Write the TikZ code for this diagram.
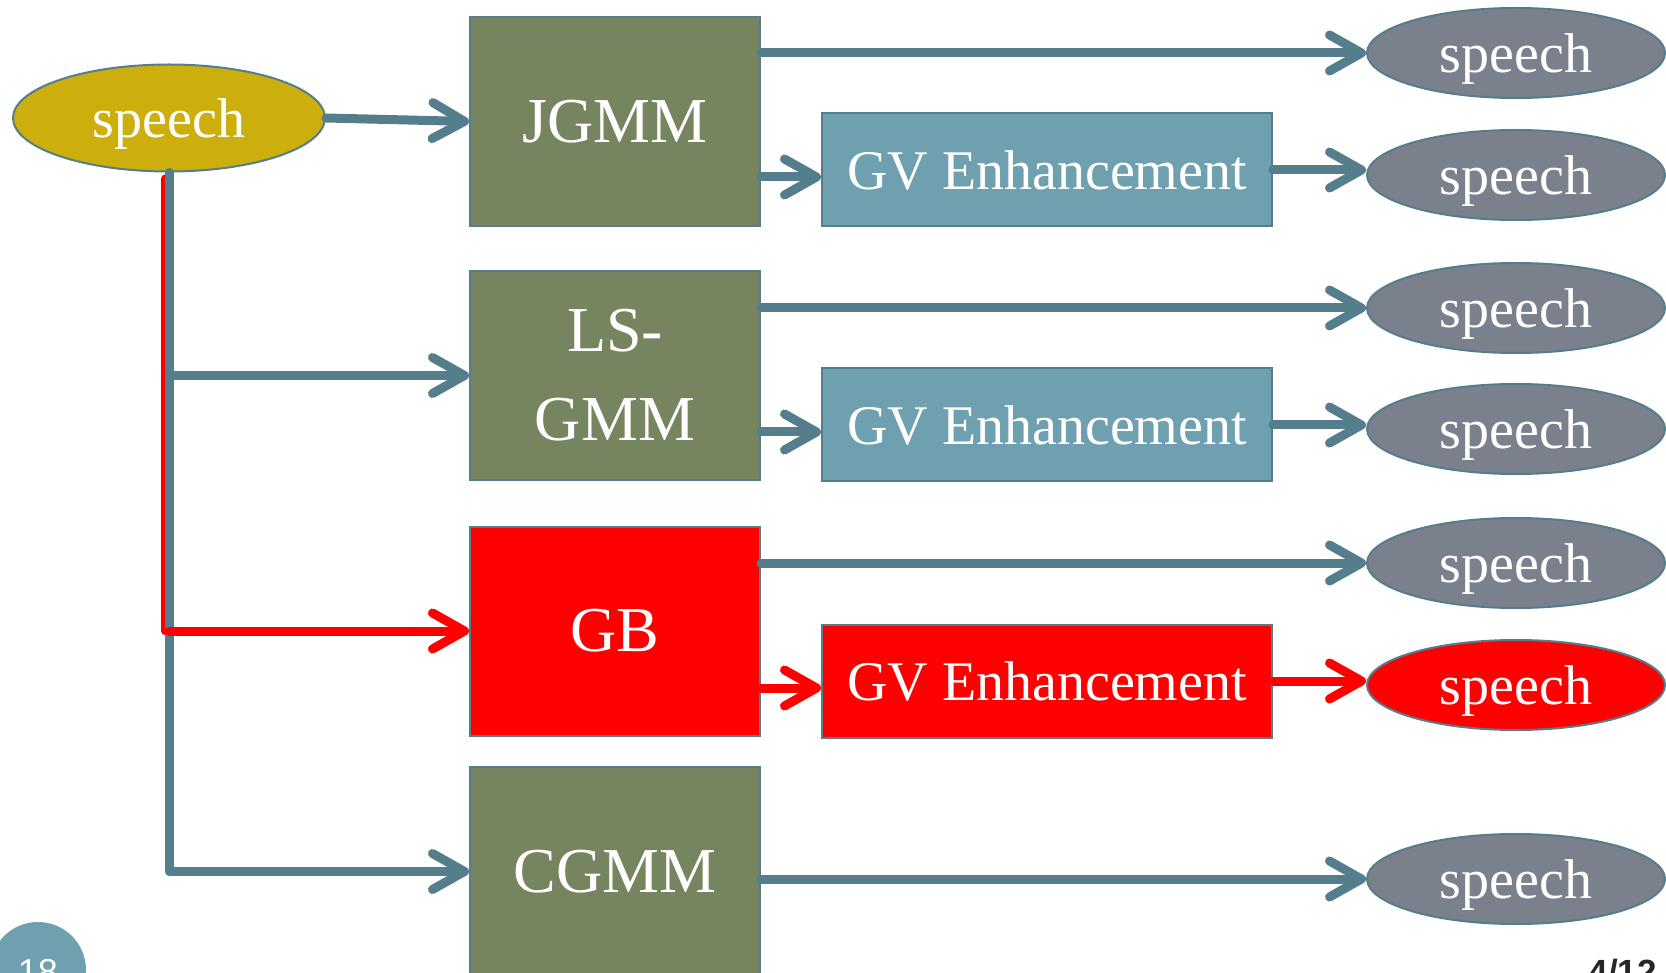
\documentclass[tikz,border=0pt]{standalone}
\usepackage{fontspec}
\setmainfont{Liberation Serif}
\setsansfont{Liberation Sans}
\usetikzlibrary{arrows.meta, shapes.geometric, calc}

\definecolor{edgeteal}{RGB}{84,126,139}
\definecolor{modelgreen}{RGB}{118,132,95}
\definecolor{enhteal}{RGB}{110,160,176}
\definecolor{speechgray}{RGB}{122,128,140}
\definecolor{srcyellow}{RGB}{204,174,12}
\definecolor{hotred}{RGB}{255,0,0}
\definecolor{pagedark}{RGB}{38,38,38}

\tikzset{
  flow/.style={draw=edgeteal, line width=9pt, line cap=round, line join=round,
    -{Straight Barb[length=32pt, width=36pt, round]}},
  hotflow/.style={flow, draw=hotred},
  model/.style={rectangle, draw=edgeteal, line width=2pt, fill=modelgreen, text=white,
    minimum width=290pt, minimum height=209pt, inner sep=0pt, align=center,
    font=\fontsize{64}{89}\selectfont},
  enhance/.style={rectangle, draw=edgeteal, line width=2pt, fill=enhteal, text=white,
    minimum width=450pt, minimum height=113pt, inner sep=0pt,
    font=\fontsize{56}{60}\selectfont},
  speech/.style={ellipse, draw=edgeteal, line width=2pt, fill=speechgray, text=white,
    minimum width=298pt, minimum height=90pt, inner sep=0pt, text depth=0pt,
    font=\fontsize{56}{60}\selectfont},
}

\begin{document}
\begin{tikzpicture}[x=1pt, y=-1pt]
    \useasboundingbox (0,0) rectangle (1666,973);

    % input
    \node[speech, fill=srcyellow, minimum width=312pt, minimum height=107pt] (src) at (169,118) {speech};

    % conversion models
    \node[model] (jgmm) at (615,121.5) {JGMM};
    \node[model] (lsgmm) at (615,375.5) {LS-\\GMM};
    \node[model, fill=hotred] (gb) at (615,631) {GB};
    \node[model] (cgmm) at (615,871.5) {CGMM};

    % enhancement
    \node[enhance] (gv1) at (1047,170) {GV Enhancement};
    \node[enhance] (gv2) at (1047,425) {GV Enhancement};
    \node[enhance, fill=hotred] (gv3) at (1047,681) {GV Enhancement};

    % outputs
    \node[speech] (sp1) at (1516,53) {speech};
    \node[speech] (sp2) at (1516,175) {speech};
    \node[speech] (sp3) at (1516,308) {speech};
    \node[speech] (sp4) at (1516,429) {speech};
    \node[speech] (sp5) at (1516,563) {speech};
    \node[speech, fill=hotred] (sp6) at (1516,685) {speech};
    \node[speech] (sp7) at (1516,879) {speech};

    % trunk from the input
    \draw[hotred, line width=8pt, line cap=round, line join=round]
        ($(src.south)+(-4,6)$) -- ($(src.south |- gb.west)+(-4,0)$);
    \draw[flow] (src.south) -- (src.south |- cgmm.west) -- (cgmm.west);
    \draw[flow] (src.south |- lsgmm.west) -- (lsgmm.west);
    \draw[hotflow] (src.south |- gb.west) -- (gb.west);
    \draw[flow] (src.east) -- (jgmm.west);

    % rows
    \foreach \m/\g/\a/\b/\s in {jgmm/gv1/sp1/sp2/flow, lsgmm/gv2/sp3/sp4/flow, gb/gv3/sp5/sp6/hotflow}{
        \draw[flow] (\m.east |- \a.west) -- (\a.west);
        \draw[\s] ($(\m.east |- \g.west)+(0,7)$) -- ($(\g.west)+(0,7)$);
        \draw[\s] (\g.east) -- (\g.east -| \b.west);
    }
    \draw[flow] (cgmm.east |- sp7.west) -- (sp7.west);

    % slide footer
    \fill[enhteal] (38,970) circle (48pt);
    \node[anchor=base, text=white, font=\sffamily\fontsize{36}{40}\selectfont, inner sep=0pt] (pagenum) at (38,984) {18};
    \node[anchor=base east, text=pagedark, font=\sffamily\bfseries\fontsize{35}{40}\selectfont, inner sep=0pt] (slidecount) at (1657,984) {4/12};
\end{tikzpicture}
\end{document}
